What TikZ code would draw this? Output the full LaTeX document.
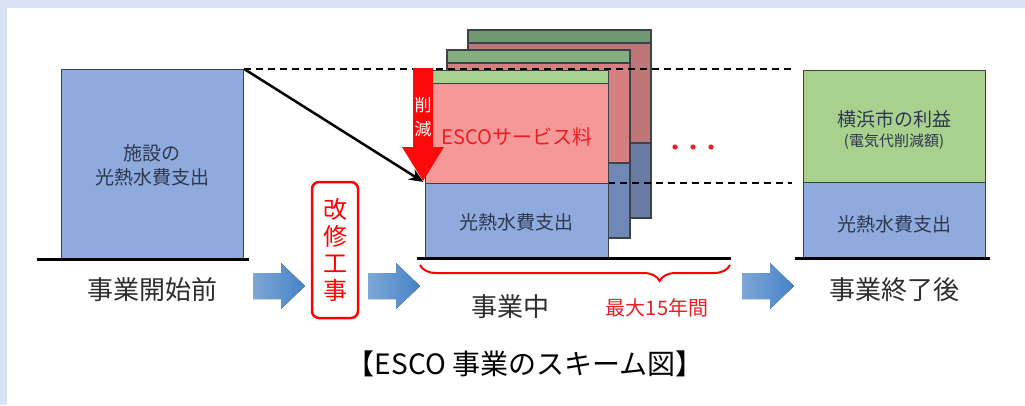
\documentclass[tikz,border=0pt]{standalone}
\usepackage{fontspec}
\setmainfont{Noto Sans CJK JP}
\usepackage{tikz}
\usetikzlibrary{positioning, calc}
\usetikzlibrary{decorations.pathreplacing}
\usetikzlibrary{arrows.meta,shapes}

\begin{document}
\begin{tikzpicture}[x=1pt,y=-1pt]
\definecolor{framebg}{RGB}{217,226,243};
\definecolor{costblue}{RGB}{143,170,220};
\definecolor{gaingreen}{RGB}{169,209,142};
\definecolor{feepink}{RGB}{246,152,152};
\definecolor{feered}{RGB}{235,30,35};
\definecolor{cutred}{RGB}{250,10,10};
\definecolor{inktext}{RGB}{46,56,80};
\definecolor{labeltext}{RGB}{45,45,45};
\definecolor{arrowblue}{RGB}{70,130,198};
\definecolor{edgegray}{RGB}{60,66,76};
\definecolor{gmid}{RGB}{132,174,126};
\definecolor{rmid}{RGB}{212,128,128};
\definecolor{bmid}{RGB}{112,136,184};
\definecolor{gback}{RGB}{112,152,114};
\definecolor{rback}{RGB}{190,118,118};
\definecolor{bback}{RGB}{104,124,164};
\tikzstyle{costbox}=[draw=edgegray, line width=1.2pt, anchor=north west,
                     inner sep=0pt];
\tikzstyle{boxtext}=[text=inktext, align=center,
                     font=\fontsize{19}{24}\selectfont];
\tikzstyle{steplabel}=[text=labeltext, font=\fontsize{26}{30}\selectfont];
\tikzstyle{groundline}=[black, line width=3pt];
\fill[framebg] (0,0) rectangle (1025,405);
\fill[white] (7,8) rectangle (1025,405);
\node[costbox, fill=costblue, minimum width=182pt, minimum height=189pt] (before) at (61,69) {};
\node[boxtext] (beforetext) at (152,165) {施設の\\光熱水費支出};
\draw[groundline] (37,259) -- (249,259);
\node[steplabel] (startlabel) at (152,290) {事業開始前};
\foreach \x in {253,368,742} {
	\fill[left color=arrowblue!70!white, right color=arrowblue]
	  (\x,273) -- (\x+28,273) -- (\x+28,263) -- (\x+52,286) -- (\x+28,309)
	  -- (\x+28,299) -- (\x,299) -- cycle;
}
\node[draw=red, line width=2.5pt, rounded corners=7pt, minimum width=46pt,
      minimum height=136pt, text=red, align=center, inner sep=0pt,
      font=\fontsize{24}{27}\selectfont] (renov) at (335,250) {改\\修\\工\\事};
\foreach \dx/\dy/\g/\r/\b in {43/40/gback/rback/bback, 22/20/gmid/rmid/bmid} {
	\draw[edgegray, line width=1.2pt, fill=\g] (425+\dx,70-\dy) rectangle ++(183,13);
	\draw[edgegray, line width=1.2pt, fill=\r] (425+\dx,83-\dy) rectangle ++(183,100);
	\draw[edgegray, line width=1.2pt, fill=\b] (425+\dx,183-\dy) rectangle ++(183,75);
}
\coordinate (topend) at (792,69);
\coordinate (midstart) at (608,183);
\coordinate (midend) at (792,183);
\draw[dash pattern=on 7pt off 5pt, line width=1.8pt] (before.north east) -- (topend);
\draw[dash pattern=on 7pt off 5pt, line width=1.8pt] (midstart) -- (midend);
\node[costbox, fill=gaingreen, minimum width=183pt, minimum height=13pt] (frontgain) at (425,70) {};
\node[costbox, fill=feepink, minimum width=183pt, minimum height=100pt] (frontfee) at (425,83) {};
\node[costbox, fill=costblue, minimum width=183pt, minimum height=75pt] (frontcost) at (425,183) {};
\node[text=feered, font=\fontsize{20}{24}\selectfont] (feetext) at (517,137) {ESCOサービス料};
\node[boxtext] (fronttext) at (516,222) {光熱水費支出};
\draw[-{Stealth[length=14pt,width=12pt]}, line width=2.5pt, shorten >=2pt] (before.north east) -- (frontcost.north west);
\fill[cutred] (413,68) -- (433,68) -- (433,147) -- (444,147) -- (423,181)
  -- (402,147) -- (413,147) -- cycle;
\node[text=white, align=center, inner sep=0pt,
      font=\fontsize{17}{24}\selectfont] (cutlabel) at (423,117) {削\\減};
\foreach \x in {675,693,711} {
	\fill[feered] (\x,147) circle (2.6pt);
}
\draw[groundline] (417,258) -- (731,258);
\draw[red, line width=2pt, decorate,
      decoration={brace, mirror, amplitude=16pt, aspect=0.773}] (420,265) -- (730,265);
\node[steplabel] (runlabel) at (510,307) {事業中};
\node[text=feered, font=\fontsize{20}{24}\selectfont] (termlabel) at (657,308) {最大15年間};
\node[costbox, fill=gaingreen, minimum width=182pt, minimum height=112pt] (aftergain) at (803,70) {};
\node[costbox, fill=costblue, minimum width=182pt, minimum height=76pt] (aftercost) at (803,182) {};
\node[boxtext] (gaintext) at (894,119) {横浜市の利益};
\node[text=inktext, font=\fontsize{15}{18}\selectfont] (gainnote) at (894,142) {(電気代削減額)};
\node[boxtext] (aftertext) at (894,224) {光熱水費支出};
\draw[groundline] (795,258) -- (990,258);
\node[steplabel] (endlabel) at (894,290) {事業終了後};
\node[text=black, font=\fontsize{28}{32}\selectfont] (title) at (525,364) {【ESCO 事業のスキーム図】};
\end{tikzpicture}
\end{document}
